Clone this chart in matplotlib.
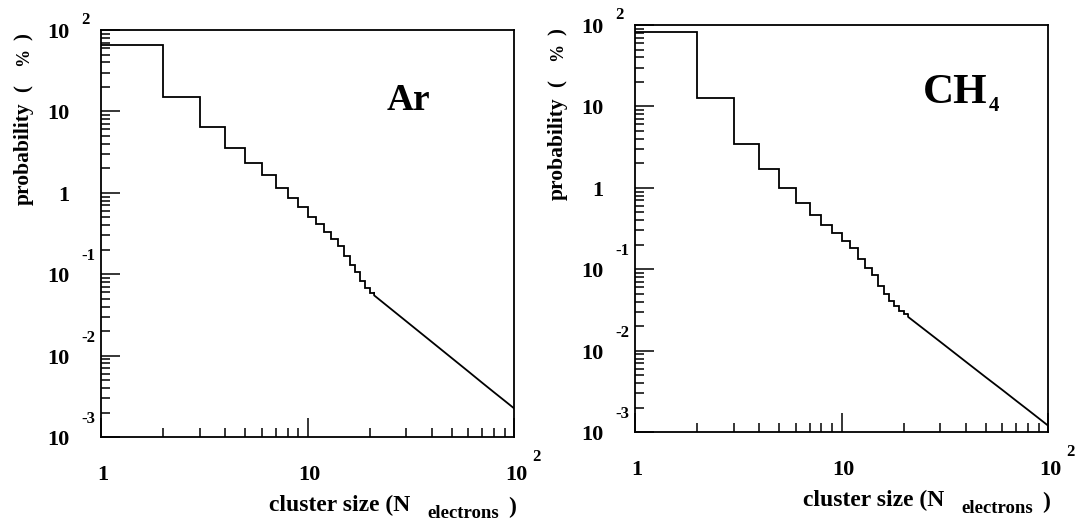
import matplotlib.pyplot as plt
import numpy as np
from matplotlib.ticker import LogLocator, NullFormatter

plt.rcParams['font.family'] = ['Liberation Serif', 'DejaVu Serif']
plt.rcParams['font.weight'] = 'bold'

# histogram part: cluster sizes 1..20 (one bin per electron count)
bin_edges = np.arange(1, 22)

# Ar: probability (%) per cluster size
ar_prob = [66, 15.2, 6.4, 3.6, 2.35, 1.64, 1.13, 0.87, 0.66, 0.51,
           0.41, 0.33, 0.27, 0.22, 0.166, 0.129, 0.106, 0.082, 0.068, 0.059]
# Ar tail (bins too narrow to see, looks like a line)
ar_tail_n = [21, 30, 40, 50, 60, 70, 80, 90, 100]
ar_tail_p = [0.055, 0.0265, 0.0147, 0.0093, 0.0064, 0.00465, 0.00354, 0.00279, 0.00225]

# CH4
ch4_prob = [83, 12.6, 3.5, 1.68, 1.0, 0.65, 0.46, 0.35, 0.28, 0.22,
            0.18, 0.133, 0.103, 0.084, 0.063, 0.049, 0.041, 0.035, 0.031, 0.028]
ch4_tail_n = [21, 30, 40, 50, 60, 70, 80, 90, 100]
ch4_tail_p = [0.026, 0.0129, 0.0073, 0.0047, 0.0033, 0.00243, 0.00187, 0.00148, 0.0012]

# axis labels in the old "10 with exponent" style
ytick_vals = [1e2, 1e1, 1e0, 1e-1, 1e-2, 1e-3]
ytick_base = ['10', '10', '1', '10', '10', '10']
ytick_exp = ['2', '', '', '-1', '-2', '-3']
xtick_vals = [1, 10, 100]
xtick_base = ['1', '10', '10']
xtick_exp = ['', '', '2']


def draw_panel(ax, prob, tail_n, tail_p):
    ax.stairs(prob, bin_edges, baseline=None, color='black', lw=1.3)
    ax.plot([bin_edges[-1]] + tail_n, [prob[-1]] + tail_p, color='black', lw=1.3)

    ax.set_xscale('log')
    ax.set_yscale('log')
    ax.set_xlim(1, 100)
    ax.set_ylim(1e-3, 1e2)

    for axis in (ax.xaxis, ax.yaxis):
        axis.set_major_locator(LogLocator(base=10, numticks=20))
        axis.set_minor_locator(LogLocator(base=10, subs=np.arange(2, 10), numticks=20))
        axis.set_minor_formatter(NullFormatter())

    ax.tick_params(which='both', direction='in', top=False, right=False,
                   labelleft=False, labelbottom=False, width=1.1, color='black')
    ax.tick_params(which='major', length=14)
    ax.tick_params(which='minor', length=6.5)
    for sp in ax.spines.values():
        sp.set_linewidth(1.3)

    # y tick labels
    for v, b, e in zip(ytick_vals, ytick_base, ytick_exp):
        ax.annotate(b, xy=(0, v), xycoords=('axes fraction', 'data'),
                    xytext=(-32, -3), textcoords='offset pixels',
                    ha='right', va='center', fontsize=16)
        if e:
            dy = 10 if e == '2' else 18
            ax.annotate(e, xy=(0, v), xycoords=('axes fraction', 'data'),
                        xytext=(-20, dy), textcoords='offset pixels',
                        ha='left', va='center', fontsize=12)

    # x tick labels
    for v, b, e in zip(xtick_vals, xtick_base, xtick_exp):
        ax.annotate(b, xy=(v, 0), xycoords=('data', 'axes fraction'),
                    xytext=(2, -38), textcoords='offset pixels',
                    ha='center', va='center', fontsize=16)
        if e:
            ax.annotate(e, xy=(v, 0), xycoords=('data', 'axes fraction'),
                        xytext=(18, -20), textcoords='offset pixels',
                        ha='left', va='center', fontsize=12)

    # y axis title, pieces spaced like the original
    for s, dy, fs in [('probability', -124, 15.5), ('(', -59, 15), ('%', -27, 13), (')', -7, 15)]:
        ax.annotate(s, xy=(0, 1), xycoords='axes fraction',
                    xytext=(-77, dy), textcoords='offset pixels',
                    ha='center', va='center', rotation=90, fontsize=fs)

    # x axis title
    ax.annotate('cluster size (N', xy=(0, 0), xycoords='axes fraction',
                xytext=(168, -74), textcoords='offset pixels',
                ha='left', va='baseline', fontsize=17)
    ax.annotate('electrons', xy=(0, 0), xycoords='axes fraction',
                xytext=(326, -81), textcoords='offset pixels',
                ha='left', va='baseline', fontsize=13.5)
    ax.annotate(')', xy=(0, 0), xycoords='axes fraction',
                xytext=(407, -70), textcoords='offset pixels',
                ha='left', va='center', fontsize=17)


fig = plt.figure(figsize=(10.75, 5.2), dpi=100)

ax1 = fig.add_axes([0.094, 0.1596, 0.3842, 0.7827])
draw_panel(ax1, ar_prob, ar_tail_n, ar_tail_p)
ax1.annotate('Ar', xy=(0, 1), xycoords='axes fraction',
             xytext=(286, -80), textcoords='offset pixels',
             ha='left', va='baseline', fontsize=27)

ax2 = fig.add_axes([0.5907, 0.1692, 0.3842, 0.7827])
draw_panel(ax2, ch4_prob, ch4_tail_n, ch4_tail_p)
ax2.annotate('CH', xy=(0, 1), xycoords='axes fraction',
             xytext=(288, -78), textcoords='offset pixels',
             ha='left', va='baseline', fontsize=31)
ax2.annotate('4', xy=(0, 1), xycoords='axes fraction',
             xytext=(354, -86), textcoords='offset pixels',
             ha='left', va='baseline', fontsize=15)

fig.savefig('out.png', dpi=100)
